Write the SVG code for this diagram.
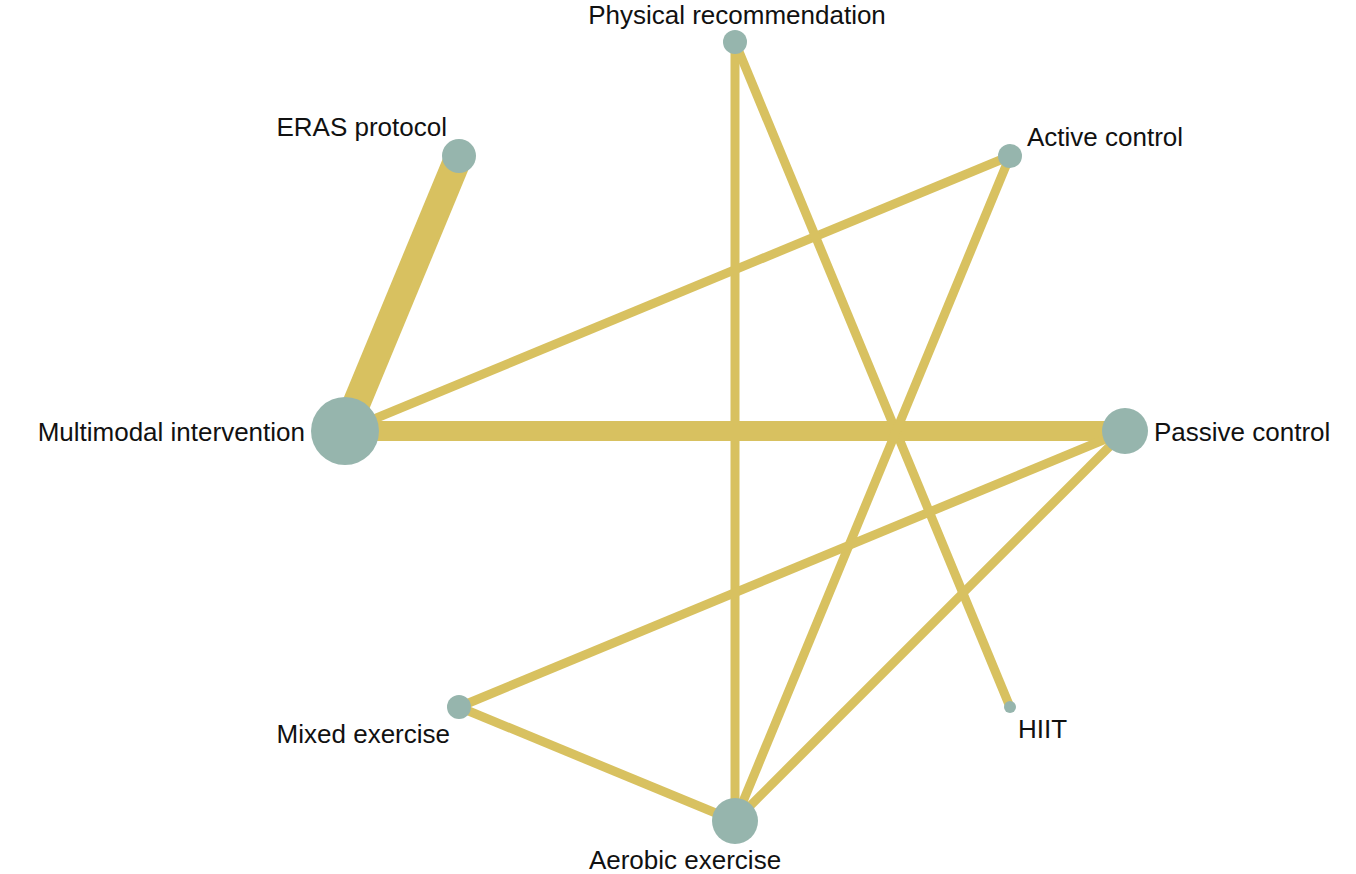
<svg xmlns="http://www.w3.org/2000/svg" width="1356" height="874" viewBox="0 0 1356 874">
<style>
.e{stroke:#D8C160;fill:none}
.n{fill:#96B5AD}
text{font-family:"Liberation Sans",Arial,sans-serif;font-size:26px;fill:#111}
</style>
<rect width="1356" height="874" fill="#fff"/>
<g id="connectors">
<line class="e" x1="459" y1="156" x2="345" y2="431" stroke-width="28"/>
<line class="e" x1="345" y1="431" x2="1010" y2="156" stroke-width="9"/>
<line class="e" x1="345" y1="431" x2="1125" y2="431" stroke-width="20"/>
<line class="e" x1="735" y1="42" x2="735" y2="821" stroke-width="9"/>
<line class="e" x1="735" y1="42" x2="1010" y2="707" stroke-width="9"/>
<line class="e" x1="1010" y1="156" x2="735" y2="821" stroke-width="9"/>
<line class="e" x1="1125" y1="431" x2="459" y2="707" stroke-width="9"/>
<line class="e" x1="1125" y1="431" x2="735" y2="821" stroke-width="9"/>
<line class="e" x1="459" y1="707" x2="735" y2="821" stroke-width="9"/>
</g>
<g id="physical"><circle class="n" cx="735" cy="42" r="12"/><text x="737" y="24" text-anchor="middle">Physical recommendation</text></g>
<g id="eras"><circle class="n" cx="459" cy="156" r="17"/><text x="447" y="136" text-anchor="end">ERAS protocol</text></g>
<g id="active"><circle class="n" cx="1010" cy="156" r="12"/><text x="1027" y="146">Active control</text></g>
<g id="multimodal"><circle class="n" cx="345" cy="431" r="34"/><text x="305" y="441" text-anchor="end">Multimodal intervention</text></g>
<g id="passive"><circle class="n" cx="1125" cy="431" r="23"/><text x="1154" y="441">Passive control</text></g>
<g id="mixed"><circle class="n" cx="459" cy="707" r="12"/><text x="450" y="743" text-anchor="end">Mixed exercise</text></g>
<g id="hiit"><circle class="n" cx="1010" cy="707" r="6"/><text x="1018" y="738">HIIT</text></g>
<g id="aerobic"><circle class="n" cx="735" cy="821" r="23"/><text x="685" y="869" text-anchor="middle">Aerobic exercise</text></g>
</svg>
